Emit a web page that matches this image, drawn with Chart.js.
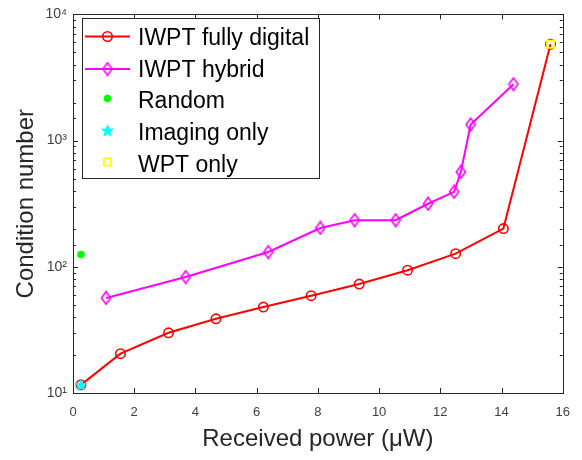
<!DOCTYPE html>
<html><head><meta charset="utf-8">
<script src="https://cdn.jsdelivr.net/npm/chart.js@4.4.0/dist/chart.umd.min.js"></script>
<style>html,body{margin:0;padding:0;background:#fff}</style>
</head><body>
<canvas id="c" width="582" height="460"></canvas>
<script>
// ---- data ----
const seriesNames = ['IWPT fully digital', 'IWPT hybrid', 'Random', 'Imaging only', 'WPT only'];
const digitalPower = [0.26, 1.55, 3.12, 4.67, 6.22, 7.78, 9.35, 10.93, 12.5, 14.06, 15.6];
const digitalCond  = [11.6, 20.5, 30, 38.7, 48, 59, 73, 94, 127, 201, 5800];
const hybridPower  = [1.08, 3.68, 6.38, 8.08, 9.2, 10.54, 11.6, 12.45, 12.67, 12.99, 14.39];
const hybridCond   = [56.6, 83, 131, 203, 234, 234, 316, 393, 564, 1340, 2800];
const randomPower  = [0.26];
const randomCond   = [125];
const imagingPower = [0.26];
const imagingCond  = [11.6];
const wptPower     = [15.6];
const wptCond      = [5800];
const xTickValues  = [0, 2, 4, 6, 8, 10, 12, 14, 16];
const yTickLabels  = {10: '10¹', 100: '10²', 1000: '10³', 10000: '10⁴'};
const xTitle = 'Received power (μW)';
const yTitle = 'Condition number';

function pts(xs, ys) { return xs.map((x, i) => ({x: x, y: ys[i]})); }

// custom marker images
function makeDiamond(color) {
  const c = document.createElement('canvas'); c.width = 12; c.height = 15;
  const g = c.getContext('2d');
  g.strokeStyle = color; g.lineWidth = 1.6;
  g.beginPath(); g.moveTo(6, 1.2); g.lineTo(10.6, 7.5); g.lineTo(6, 13.8); g.lineTo(1.4, 7.5); g.closePath(); g.stroke();
  return c;
}
function makeStar(color) {
  const c = document.createElement('canvas'); c.width = 15; c.height = 15;
  const g = c.getContext('2d');
  g.fillStyle = color; g.beginPath();
  const cx = 7.5, cy = 8, R = 7.2, r = 3.0;
  for (let i = 0; i < 10; i++) {
    const a = -Math.PI / 2 + i * Math.PI / 5;
    const rr = i % 2 === 0 ? R : r;
    const px = cx + rr * Math.cos(a), py = cy + rr * Math.sin(a);
    if (i === 0) g.moveTo(px, py); else g.lineTo(px, py);
  }
  g.closePath(); g.fill();
  return c;
}
const diamondImg = makeDiamond('#ff00ff');
const starImg = makeStar('#00ffff');

const FONT = 'Liberation Sans, Arial, Helvetica, sans-serif';
const AX = '#262626';

const datasets = [
  {label: seriesNames[0], data: pts(digitalPower, digitalCond), showLine: true, borderColor: '#ff0000', borderWidth: 2,
   pointStyle: 'circle', pointRadius: 4.7, pointBorderWidth: 1.6, pointBorderColor: '#ff0000', pointBackgroundColor: 'rgba(0,0,0,0)', order: 4},
  {label: seriesNames[1], data: pts(hybridPower, hybridCond), showLine: true, borderColor: '#ff00ff', borderWidth: 2,
   pointStyle: diamondImg, pointRadius: 5, order: 3},
  {label: seriesNames[2], data: pts(randomPower, randomCond), showLine: false, pointStyle: 'circle', pointRadius: 3.8,
   pointBorderWidth: 0, pointBackgroundColor: '#00ff00', pointBorderColor: '#00ff00', order: 2},
  {label: seriesNames[3], data: pts(imagingPower, imagingCond), showLine: false, pointStyle: starImg, pointRadius: 6, order: 1},
  {label: seriesNames[4], data: pts(wptPower, wptCond), showLine: false, pointStyle: 'rect', pointRadius: 5,
   pointBorderWidth: 1.8, pointBorderColor: '#ffff00', pointBackgroundColor: 'rgba(0,0,0,0)', order: 0}
];

const matlabAxes = {
  id: 'matlabAxes',
  afterDraw(chart) {
    const ctx = chart.ctx, a = chart.chartArea;
    const xs = chart.scales.x, ys = chart.scales.y;
    ctx.save();
    ctx.strokeStyle = AX; ctx.lineWidth = 1;
    // box
    ctx.strokeRect(Math.round(a.left) + 0.5, Math.round(a.top) + 0.5, Math.round(a.right - a.left), Math.round(a.bottom - a.top));
    ctx.beginPath();
    xs.ticks.forEach(t => {
      const px = Math.round(xs.getPixelForValue(t.value)) + 0.5;
      ctx.moveTo(px, a.bottom); ctx.lineTo(px, a.bottom - 5);
      ctx.moveTo(px, a.top); ctx.lineTo(px, a.top + 5);
    });
    ys.ticks.forEach(t => {
      const major = yTickLabels[t.value] !== undefined;
      const len = major ? 5 : 3;
      const py = Math.round(ys.getPixelForValue(t.value)) + 0.5;
      ctx.moveTo(a.left, py); ctx.lineTo(a.left + len, py);
      ctx.moveTo(a.right, py); ctx.lineTo(a.right - len, py);
    });
    ctx.stroke();
    // legend
    const lx = 82, ly = 18, lw = 237, lh = 160;
    ctx.fillStyle = '#ffffff';
    ctx.fillRect(lx, ly, lw, lh);
    ctx.strokeStyle = AX; ctx.lineWidth = 1;
    ctx.strokeRect(lx + 0.5, ly + 0.5, lw, lh);
    const markY = [36.5, 69, 98.5, 130.5, 162];
    const baseY = [45, 77, 108, 140, 171.5];
    ctx.font = '23px ' + FONT; ctx.textBaseline = 'alphabetic'; ctx.textAlign = 'left';
    chart.data.datasets.forEach((ds, i) => {
      const y = markY[i];
      if (ds.showLine) {
        ctx.strokeStyle = ds.borderColor; ctx.lineWidth = ds.borderWidth;
        ctx.beginPath(); ctx.moveTo(85, y); ctx.lineTo(130, y); ctx.stroke();
      }
      ctx.strokeStyle = ds.pointBorderColor || ds.borderColor || '#000';
      ctx.fillStyle = ds.pointBackgroundColor || 'rgba(0,0,0,0)';
      ctx.lineWidth = ds.pointBorderWidth || 1;
      Chart.helpers.drawPoint(ctx, {pointStyle: ds.pointStyle, radius: ds.pointRadius, rotation: 0,
        borderWidth: ds.pointBorderWidth || 0}, 107.5, y);
      ctx.fillStyle = '#000000';
      ctx.fillText(ds.label, 138, baseY[i]);
    });
    ctx.restore();
  }
};

new Chart(document.getElementById('c'), {
  type: 'scatter',
  data: {datasets: datasets},
  options: {
    responsive: false, animation: false, devicePixelRatio: 1,
    layout: {padding: {left: 0, right: 17, top: 11, bottom: 0}},
    plugins: {legend: {display: false}, tooltip: {enabled: false}},
    scales: {
      x: {
        type: 'linear', min: 0, max: 16,
        afterBuildTicks: s => { s.ticks = xTickValues.map(v => ({value: v})); },
        grid: {display: false, drawTicks: false}, border: {display: false},
        ticks: {font: {family: FONT, size: 13}, color: '#404040', padding: 12, maxRotation: 0, autoSkip: false},
        title: {display: true, text: xTitle, font: {family: FONT, size: 24}, color: AX, padding: {top: 6.5, bottom: 6.5}},
        afterFit: s => { s.height = 67; }
      },
      y: {
        type: 'logarithmic', min: 10, max: 10000,
        grid: {display: false, drawTicks: false}, border: {display: false},
        ticks: {font: {family: FONT, size: 14}, color: '#404040', padding: 6, autoSkip: false,
          callback: v => yTickLabels[v] || ''},
        title: {display: true, text: yTitle, font: {family: FONT, size: 24}, color: AX, padding: {top: 12, bottom: 12}},
        afterFit: s => { s.width = 73; }
      }
    }
  },
  plugins: [matlabAxes]
});
</script>
</body></html>
